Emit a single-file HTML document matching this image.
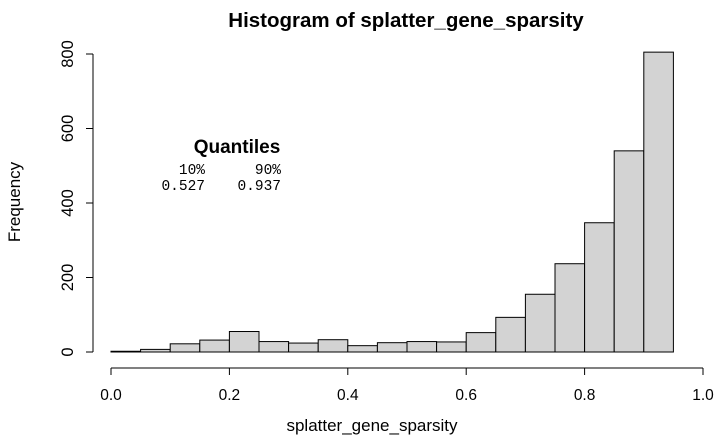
<!DOCTYPE html>
<html><head><meta charset="utf-8"><style>
body{margin:0;background:#fff}
svg{display:block;font-family:"Liberation Sans",sans-serif}
</style></head><body>
<svg id="chart" width="726" height="441">
<text x="406" y="27" text-anchor="middle" font-size="20.5" font-weight="bold">Histogram of splatter_gene_sparsity</text>
<text transform="translate(20,202) rotate(-90)" text-anchor="middle" font-size="17">Frequency</text>
<text x="372" y="431" text-anchor="middle" font-size="17">splatter_gene_sparsity</text>
<g id="bars"></g><g id="xaxis"></g><g id="yaxis"></g>
<g font-family="Liberation Mono,monospace" font-size="14.5">
<text x="237" y="153" text-anchor="middle" font-family="Liberation Sans,sans-serif" font-weight="bold" font-size="19">Quantiles</text>
<text x="205" y="174" text-anchor="end">10%</text>
<text x="281" y="174" text-anchor="end">90%</text>
<text x="205" y="190" text-anchor="end">0.527</text>
<text x="281" y="190" text-anchor="end">0.937</text>
</g>
</svg>
<script>
const binStarts=[0,0.05,0.1,0.15,0.2,0.25,0.3,0.35,0.4,0.45,0.5,0.55,0.6,0.65,0.7,0.75,0.8,0.85,0.9];
const counts=[2,7,22,32,55,28,24,33,17,25,28,27,52,93,155,237,347,540,805];
const xTicks=[0,0.2,0.4,0.6,0.8,1.0];
const xTickLabels=["0.0","0.2","0.4","0.6","0.8","1.0"];
const yTicks=[0,200,400,600,800];
const binWidth=0.05;
const NS="http://www.w3.org/2000/svg";
const x=v=>111+v*592, y=v=>352-v*298/800;
function mk(t,a,p){const e=document.createElementNS(NS,t);for(const k in a)e.setAttribute(k,a[k]);p.appendChild(e);return e;}
const bars=document.getElementById('bars');
binStarts.forEach((b,i)=>{
 const r=mk('rect',{x:x(b),y:y(counts[i]),width:x(b+binWidth)-x(b),height:y(0)-y(counts[i]),fill:'#d3d3d3',stroke:'#000','stroke-width':1},bars);
 
 
});
const xa=document.getElementById('xaxis');


mk('line',{x1:x(0),x2:x(1),y1:368,y2:368,stroke:'#000'},xa);
xTicks.forEach((t,i)=>{mk('line',{x1:x(t),x2:x(t),y1:368,y2:375,stroke:'#000'},xa);
 const tx=mk('text',{x:x(t),y:400,'text-anchor':'middle','font-size':15.5},xa);tx.textContent=xTickLabels[i];
 
 });
const ya=document.getElementById('yaxis');


mk('line',{x1:93,x2:93,y1:y(0),y2:y(800),stroke:'#000'},ya);
yTicks.forEach(t=>{mk('line',{x1:86,x2:93,y1:y(t),y2:y(t),stroke:'#000'},ya);
 const tx=mk('text',{transform:`translate(73,${y(t)}) rotate(-90)`,'text-anchor':'middle','font-size':16.5},ya);tx.textContent=t;
 
 });
</script>
</body></html>
